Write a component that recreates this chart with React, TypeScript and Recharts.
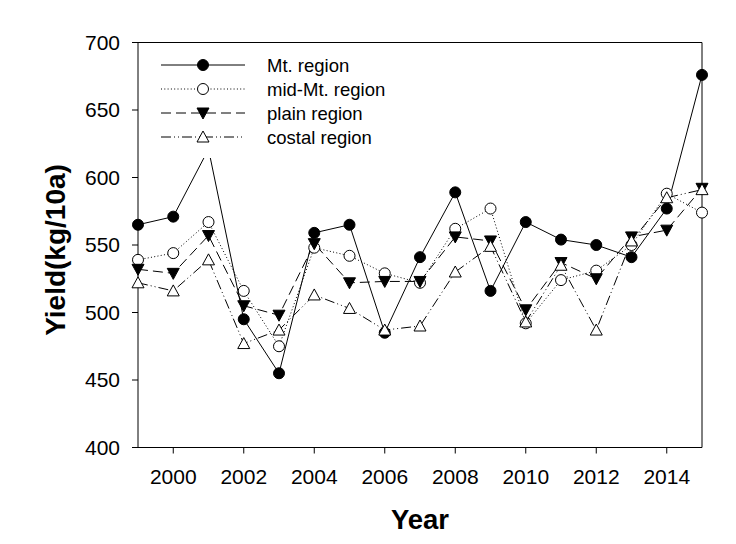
import { LineChart, Line, XAxis, YAxis, ReferenceLine, Label } from 'recharts';

const years = [1999, 2000, 2001, 2002, 2003, 2004, 2005, 2006, 2007, 2008, 2009, 2010, 2011, 2012, 2013, 2014, 2015];
const mtRegion = [565, 571, 621, 495, 455, 559, 565, 485, 541, 589, 516, 567, 554, 550, 541, 577, 676];
const midMtRegion = [539, 544, 567, 516, 475, 548, 542, 529, 522, 562, 577, 492, 524, 531, 550, 588, 574];
const plainRegion = [532, 529, 557, 505, 498, 551, 522, 523, 523, 556, 553, 502, 537, 525, 556, 561, 592];
const costalRegion = [522, 516, 539, 477, 487, 513, 503, 487, 490, 530, 549, 493, 535, 487, 553, 585, 591];

const xTicks = [2000, 2002, 2004, 2006, 2008, 2010, 2012, 2014];
const yTicks = [400, 450, 500, 550, 600, 650, 700];

const FONT = "Arial, 'Liberation Sans', sans-serif";

const data = years.map((year, i) => ({
  year,
  mt: mtRegion[i],
  mid: midMtRegion[i],
  plain: plainRegion[i],
  costal: costalRegion[i],
}));

type Shape = 'circleFilled' | 'circleOpen' | 'triDown' | 'triUp';

function Marker({ cx, cy, shape }: { cx: number; cy: number; shape: Shape }) {
  if (shape === 'circleFilled' || shape === 'circleOpen') {
    return <circle cx={cx} cy={cy} r={5.5} fill={shape === 'circleFilled' ? '#000' : '#fff'} stroke="#000" strokeWidth={1} />;
  }
  if (shape === 'triDown') {
    return <polygon points={`${cx - 6},${cy - 5} ${cx + 6},${cy - 5} ${cx},${cy + 6}`} fill="#000" stroke="#000" strokeWidth={1} />;
  }
  return <polygon points={`${cx - 6},${cy + 5} ${cx + 6},${cy + 5} ${cx},${cy - 6}`} fill="#fff" stroke="#000" strokeWidth={1} />;
}

const makeDot = (shape: Shape) => (props: any) => {
  const { cx, cy, index } = props;
  if (cx == null || cy == null) return <g key={`d-${shape}-${index}`} />;
  return (
    <g key={`d-${shape}-${index}`}>
      <Marker cx={cx} cy={cy} shape={shape} />
    </g>
  );
};

const series = [
  { key: 'mt', name: 'Mt. region', dash: undefined as string | undefined, shape: 'circleFilled' as Shape },
  { key: 'mid', name: 'mid-Mt. region', dash: '1 2.3', shape: 'circleOpen' as Shape },
  { key: 'plain', name: 'plain region', dash: '10 5', shape: 'triDown' as Shape },
  { key: 'costal', name: 'costal region', dash: '10 3 1 3 1 3', shape: 'triUp' as Shape },
];

function LegendBox() {
  return (
    <svg width={250} height={108} style={{ display: 'block', background: '#fff' }}>
      {series.map((s, i) => {
        const y = 15 + i * 24;
        return (
          <g key={s.key}>
            <line x1={11} x2={95} y1={y} y2={y} stroke="#000" strokeWidth={1} strokeDasharray={s.dash} />
            <Marker cx={53} cy={y} shape={s.shape} />
            <text x={117} y={y + 6.5} fontFamily={FONT} fontSize={18.5} fill="#000">
              {s.name}
            </text>
          </g>
        );
      })}
    </svg>
  );
}

export default function App() {
  return (
    <div style={{ position: 'absolute', left: 0, top: 0, width: 736, height: 544, background: '#fff' }}>
      <LineChart width={736} height={544} data={data} margin={{ top: 42.5, right: 34, bottom: 66.5, left: 58 }}>
        <XAxis
          dataKey="year"
          type="number"
          domain={[1999, 2015]}
          ticks={xTicks}
          height={30}
          tickSize={6}
          tickMargin={16}
          stroke="#000"
          tick={{ fill: '#000', fontSize: 21, fontFamily: FONT }}
          label={
            <Label
              content={() => (
                <text x={420} y={529} textAnchor="middle" fontFamily={FONT} fontSize={27.5} fontWeight="bold" fill="#000">
                  Year
                </text>
              )}
            />
          }
        />
        <YAxis
          type="number"
          domain={[400, 700]}
          ticks={yTicks}
          width={80}
          tickSize={6}
          tickMargin={12}
          stroke="#000"
          tick={{ fill: '#000', fontSize: 21, fontFamily: FONT }}
          label={
            <Label
              content={() => (
                <text
                  x={65}
                  y={250}
                  transform="rotate(-90 65 250)"
                  textAnchor="middle"
                  fontFamily={FONT}
                  fontSize={28}
                  fontWeight="bold"
                  fill="#000"
                >
                  Yield(kg/10a)
                </text>
              )}
            />
          }
        />
        <ReferenceLine y={700} stroke="#000" strokeWidth={1} />
        <ReferenceLine x={2015} stroke="#000" strokeWidth={1} />
        {series.map((s) => (
          <Line
            key={s.key}
            dataKey={s.key}
            name={s.name}
            stroke="#000"
            strokeWidth={1}
            strokeDasharray={s.dash}
            dot={makeDot(s.shape)}
            activeDot={false}
            isAnimationActive={false}
          />
        ))}
      </LineChart>
      <div style={{ position: 'absolute', left: 150, top: 50 }}>
        <LegendBox />
      </div>
    </div>
  );
}
